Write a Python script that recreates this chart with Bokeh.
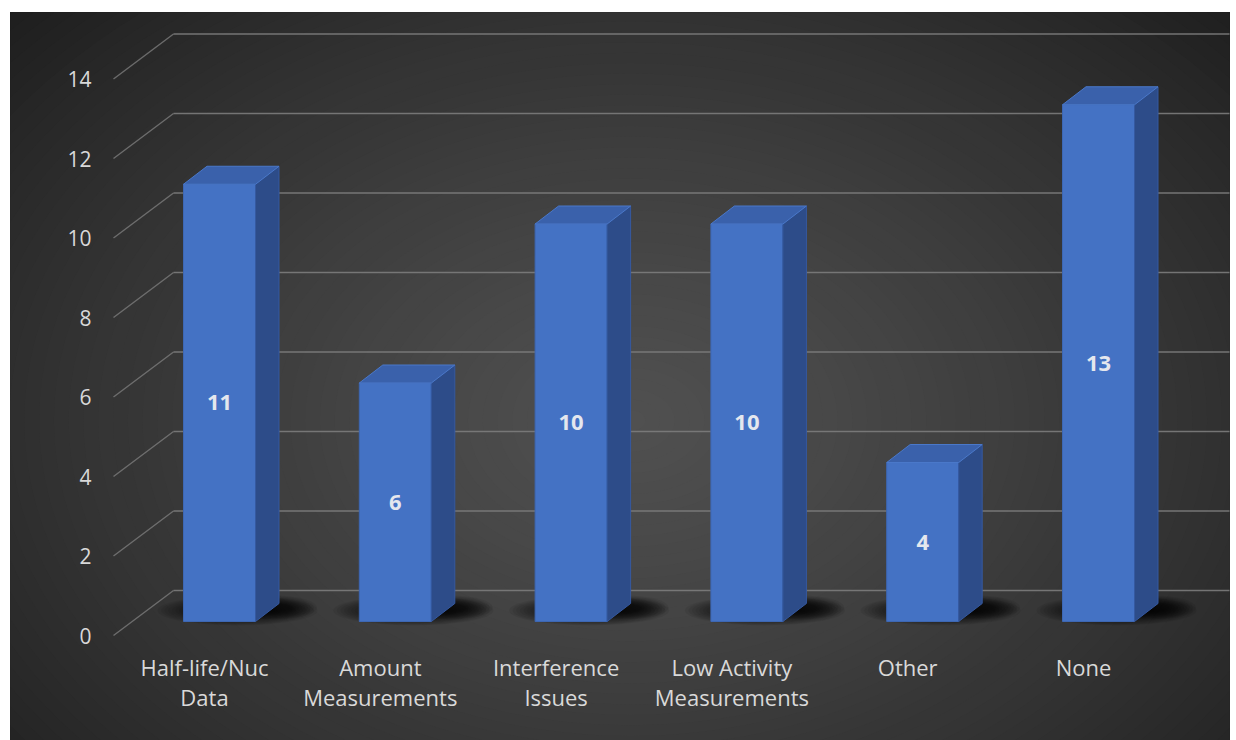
from bokeh.plotting import figure
from bokeh.models import Range1d
from bokeh.core.properties import value
from bokeh.embed import file_html
from bokeh.resources import INLINE

# ---------------- data ----------------
categories = ["Half-life/Nuc\nData", "Amount\nMeasurements", "Interference\nIssues",
              "Low Activity\nMeasurements", "Other", "None"]
counts = [11, 6, 10, 10, 4, 13]
y_ticks = [0, 2, 4, 6, 8, 10, 12, 14]
y_tick_labels = ["0", "2", "4", "6", "8", "10", "12", "14"]

# ---------------- layout (pixel geometry of the pseudo-3D projection) ----------------
W, H = 1236, 740
BL, BT, BR, BB = 10, 12, 7, 0
PX_CAT = 175.8     # pixels per category step
PX_VAL = 39.75     # pixels per value unit
X0PX = 219.0       # centre of the first bar (pixels)
Y0PX = 621.0       # floor line of the bars' front face (pixels)


def X(px):
    return (px - X0PX) / PX_CAT


def Y(py):
    return (Y0PX - py) / PX_VAL


BACK_DY = Y(590)          # back wall offset of the value 0 line
FRONT_DY = Y(635)         # front axis plane offset
BACK_X = X(173)
FRONT_X = X(113)
HALF_W = 36.0 / PX_CAT
DEPTH_X = 23.5 / PX_CAT
DEPTH_Y = 18.0 / PX_VAL

p = figure(width=W, height=H, output_backend="svg", toolbar_location=None,
           x_range=Range1d(X(BL), X(W - BR)), y_range=Range1d(Y(H - BB), Y(BT)),
           min_border_left=BL, min_border_right=BR, min_border_top=BT,
           min_border_bottom=BB, border_fill_color="white", outline_line_color=None,
           background_fill_color="#1c1c1c")
p.axis.visible = False
p.grid.visible = False

# ---------------- radial background gradient ----------------
cx, cy = X(630), Y(420)
N = 70
inner, outer = 80, 27
for k in range(N):
    r = 1.0 - k / N          # from large to small
    a = 1.15 * r
    g = int(round(outer + (inner - outer) * (1 - min(a, 1.0) ** 1.25)))
    col = "#%02x%02x%02x" % (g, g, g)
    p.ellipse(x=cx, y=cy, width=2 * 900 * a, height=2 * 640 * a,
              width_units="screen", height_units="screen",
              fill_color=col, line_color=None)

# ---------------- gridlines (back wall + diagonal floor-to-wall lines) ----------------
grid_col = "#7c7c7c"
p.segment(x0=[BACK_X] * len(y_ticks), y0=[v + BACK_DY for v in y_ticks],
          x1=[X(W + 20)] * len(y_ticks), y1=[v + BACK_DY for v in y_ticks],
          line_color=grid_col, line_width=1.6, line_alpha=0.9)
p.segment(x0=[FRONT_X] * len(y_ticks), y0=[v + FRONT_DY for v in y_ticks],
          x1=[BACK_X] * len(y_ticks), y1=[v + BACK_DY for v in y_ticks],
          line_color=grid_col, line_width=1.4, line_alpha=0.8)

# y tick labels
p.text(x=[X(91)] * len(y_ticks), y=[v + FRONT_DY for v in y_ticks], text=y_tick_labels,
       text_font=value("Open Sans"), text_font_size="21px", text_color="#d9d9d9",
       text_align="right", text_baseline="middle")

# ---------------- soft shadows ----------------
xs_idx = list(range(len(categories)))
for k in range(14):
    f = 1.0 - k / 14.0
    p.ellipse(x=[i + 18.0 / PX_CAT for i in xs_idx], y=[Y(610)] * len(xs_idx),
              width=60 + 100 * f, height=8 + 22 * f,
              width_units="screen", height_units="screen",
              fill_color="black", fill_alpha=0.065, line_color=None)
for k in range(10):
    f = 1.0 - k / 10.0
    p.ellipse(x=[i + 55.0 / PX_CAT for i in xs_idx], y=[Y(607)] * len(xs_idx),
              width=25 + 60 * f, height=6 + 18 * f,
              width_units="screen", height_units="screen",
              fill_color="black", fill_alpha=0.07, line_color=None)

# ---------------- 3D bars ----------------
front_col = "#4472c4"
side_col = "#2d4c89"
top_col = "#3a61ab"

p.quad(left=[i - HALF_W for i in xs_idx], right=[i + HALF_W for i in xs_idx],
       bottom=[0] * len(xs_idx), top=counts,
       fill_color=front_col, line_color="#3d67b3", line_width=1)
p.patches(xs=[[i + HALF_W, i + HALF_W + DEPTH_X, i + HALF_W + DEPTH_X, i + HALF_W] for i in xs_idx],
          ys=[[0, DEPTH_Y, v + DEPTH_Y, v] for v in counts],
          fill_color=side_col, line_color="#3559a0", line_width=1)
p.patches(xs=[[i - HALF_W, i - HALF_W + DEPTH_X, i + HALF_W + DEPTH_X, i + HALF_W] for i in xs_idx],
          ys=[[v, v + DEPTH_Y, v + DEPTH_Y, v] for v in counts],
          fill_color=top_col, line_color="#4a78c9", line_width=1)

# data labels
p.text(x=xs_idx, y=[v / 2.0 for v in counts], text=[str(v) for v in counts],
       text_font=value("Open Sans"), text_font_style="bold", text_font_size="22px",
       text_color="#e4e7ee", text_align="center", text_baseline="middle")

# ---------------- category labels ----------------
line1 = [c.split("\n")[0] for c in categories]
line2 = [c.split("\n")[1] if "\n" in c else "" for c in categories]
lab_x = [i - 15.0 / PX_CAT for i in xs_idx]
p.text(x=lab_x, y=[Y(666)] * len(xs_idx), text=line1,
       text_font=value("Open Sans"), text_font_size="22px", text_color="#d9d9d9",
       text_align="center", text_baseline="middle")
p.text(x=lab_x, y=[Y(696)] * len(xs_idx), text=line2,
       text_font=value("Open Sans"), text_font_size="22px", text_color="#d9d9d9",
       text_align="center", text_baseline="middle")

open("out.html", "w").write(file_html(p, INLINE))
